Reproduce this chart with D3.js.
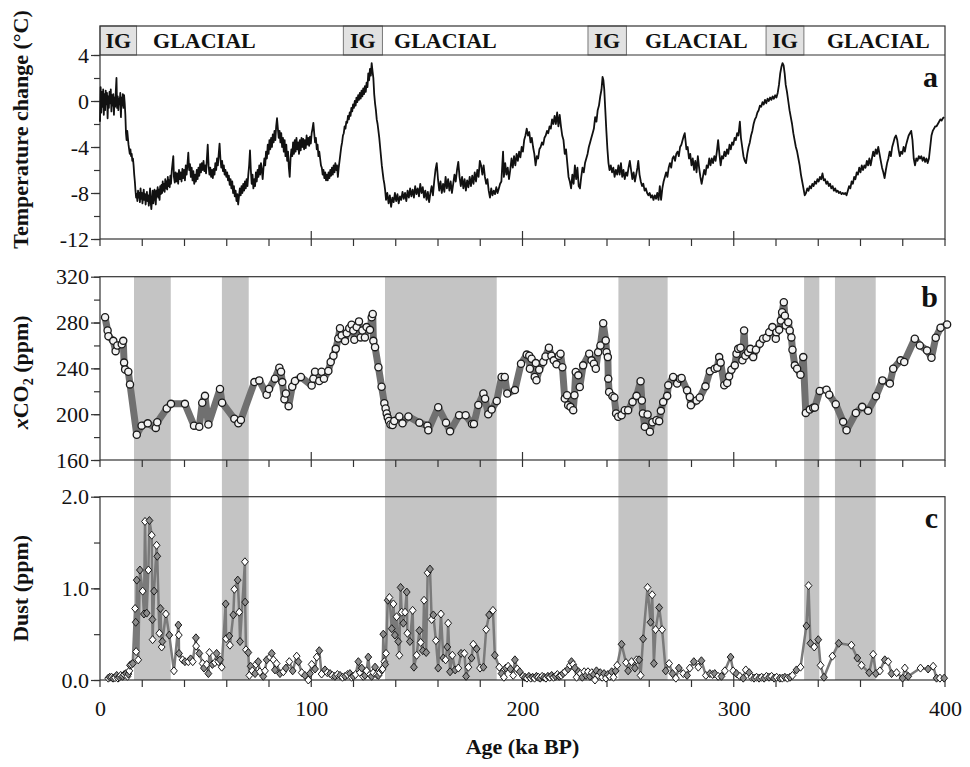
<!DOCTYPE html>
<html>
<head>
<meta charset="utf-8">
<script src="https://cdn.jsdelivr.net/npm/d3@7"></script>
<style>
body { margin: 0; background: #fff; }
svg, svg text { font-family: "Liberation Serif", "DejaVu Serif", "Times New Roman", Times, serif; fill: #111; }
</style>
</head>
<body>
<svg id="chart" width="970" height="767"></svg>
<script>

// ---- data ----

// interglacial boxes in the top strip, ka BP
var igPeriods = [[0, 17.3], [115.2, 133.7], [231, 249.2], [315.3, 333.2]];
// left edge of each GLACIAL label, ka BP
var glacialLabels = [25.1, 139.2, 258, 344.1];
// grey glacial shading over panels b and c
var shadeBands = [[16.1, 33.5], [57.7, 70.4], [134.9, 187.8], [245.4, 268.7], [333.3, 340.5], [347.9, 367.2]];

var ageTicks = [0, 100, 200, 300, 400];
var tempTicks = [4, 0, -4, -8, -12];
var co2Ticks = [320, 280, 240, 200, 160];
var dustTicks = [2, 1, 0];

// temperature change (°C), [age, value]
var tempData = [
[0,-1.8],[0.3,1.2],[0.6,-1.0],[0.9,0.8],[1.2,-0.5],[1.5,1.0],[1.8,-1.2],[2.1,0.6],[2.4,-0.8],[2.7,0.9],
[3.0,-0.3],[3.3,0.7],[3.6,-1.5],[3.9,0.4],[4.2,-0.6],[4.5,0.8],[4.8,-0.2],[5.1,1.0],[5.4,-0.9],[5.7,0.5],
[6.0,-0.4],[6.3,0.6],[6.6,-1.2],[6.9,0.3],[7.2,-0.5],[7.5,0.9],[7.8,2.0],[8.1,-0.6],[8.4,0.4],[8.7,-0.8],
[9.0,0.2],[9.3,-0.3],[9.6,0.7],[9.9,-1.4],[10.2,0.3],[10.5,-0.4],[10.8,0.6],[11.1,-0.6],[11.4,0.5],[11.7,-0.2],
[12.0,-1.2],[12.3,-2.8],[12.6,-3.4],[12.9,-2.6],[13.2,-3.2],[13.5,-3.8],[13.8,-4.2],[14.1,-4.6],[14.4,-4.2],[14.7,-4.8],
[15.0,-4.6],[15.3,-5.2],[15.6,-5.0],[15.9,-5.6],[16.2,-6.4],[16.5,-7.0],[16.8,-7.8],[17.1,-8.4],[17.4,-8.1],[17.7,-8.7],
[18.0,-7.8],[18.3,-8.4],[18.6,-8.0],[18.9,-8.8],[19.2,-7.6],[19.5,-8.5],[19.8,-8.0],[20.1,-8.9],[20.4,-8.2],[20.7,-7.7],
[21.0,-8.6],[21.3,-8.1],[21.6,-9.0],[21.9,-8.3],[22.2,-7.9],[22.5,-8.7],[22.8,-8.2],[23.1,-9.1],[23.4,-8.4],[23.7,-7.6],
[24.0,-8.8],[24.3,-9.4],[24.6,-8.6],[24.9,-7.8],[25.2,-8.9],[25.5,-8.3],[25.8,-7.7],[26.1,-8.5],[26.4,-9.0],[26.7,-7.8],
[27.0,-8.3],[27.3,-7.5],[27.6,-8.4],[27.9,-7.7],[28.2,-8.6],[28.5,-7.4],[28.8,-8.1],[29.1,-7.3],[29.4,-8.0],[29.7,-7.0],
[30.0,-7.8],[30.3,-7.2],[30.6,-7.9],[30.9,-6.8],[31.2,-7.6],[31.5,-7.0],[31.8,-7.7],[32.1,-6.6],[32.4,-7.4],[32.7,-6.9],
[33.0,-7.5],[33.3,-6.5],[33.6,-7.2],[34.0,-6.0],[34.7,-4.8],[35.0,-6.6],[35.4,-7.1],[35.8,-6.2],[36.2,-7.0],[36.6,-6.3],
[37.0,-7.2],[37.4,-6.0],[37.8,-6.8],[38.2,-6.2],[38.6,-7.0],[39.0,-5.9],[39.4,-6.7],[39.8,-6.0],[40.2,-6.9],[40.6,-5.6],
[41.0,-6.4],[41.4,-5.5],[41.8,-4.5],[42.2,-6.0],[42.6,-5.5],[43.0,-6.6],[43.4,-5.8],[43.8,-6.9],[44.2,-6.1],[44.6,-7.2],
[45.0,-6.4],[45.4,-7.0],[45.8,-6.0],[46.2,-6.8],[46.6,-5.8],[47.0,-6.5],[47.4,-5.5],[47.8,-6.2],[48.2,-5.4],[48.6,-6.0],
[49.0,-5.2],[49.4,-6.1],[49.8,-5.6],[50.2,-6.3],[50.6,-5.0],[51.0,-3.8],[51.4,-5.6],[51.8,-6.4],[52.2,-5.8],[52.6,-6.6],
[53.0,-6.0],[53.4,-6.7],[53.8,-5.9],[54.2,-6.4],[54.6,-5.4],[55.0,-6.0],[55.4,-5.0],[55.8,-5.6],[56.2,-4.6],[56.6,-3.7],
[57.0,-5.0],[57.4,-5.8],[57.8,-5.2],[58.2,-6.1],[58.6,-5.6],[59.0,-6.4],[59.4,-6.0],[59.8,-6.6],[60.2,-6.2],[60.6,-6.9],
[61.0,-6.5],[61.4,-7.3],[61.8,-6.8],[62.2,-7.6],[62.6,-7.0],[63.0,-8.0],[63.4,-7.4],[63.8,-8.3],[64.2,-7.8],[64.6,-8.7],
[65.0,-8.1],[65.4,-9.0],[65.8,-8.3],[66.2,-7.6],[66.6,-8.2],[67.0,-7.4],[67.4,-8.0],[67.8,-7.2],[68.2,-7.8],[68.6,-7.0],
[69.0,-7.6],[69.4,-6.8],[69.8,-7.4],[70.2,-6.4],[70.6,-5.6],[71.0,-4.3],[71.4,-6.0],[71.8,-7.2],[72.2,-6.4],[72.6,-7.6],
[73.0,-6.8],[73.4,-7.4],[73.8,-6.2],[74.2,-7.0],[74.6,-6.0],[75.0,-6.6],[75.4,-5.6],[75.8,-6.4],[76.2,-5.4],[76.6,-6.0],
[77.0,-6.8],[77.4,-5.8],[77.8,-5.0],[78.2,-5.6],[78.6,-4.4],[79.0,-5.0],[79.4,-3.8],[79.8,-4.6],[80.2,-3.4],[80.6,-4.2],
[81.0,-3.2],[81.4,-4.0],[81.8,-2.9],[82.2,-3.6],[82.6,-2.6],[83.0,-3.4],[83.4,-2.2],[83.8,-1.5],[84.2,-2.4],[84.6,-3.2],
[85.0,-2.6],[85.4,-3.6],[85.8,-2.8],[86.2,-4.0],[86.6,-3.2],[87.0,-4.4],[87.4,-3.4],[87.8,-4.8],[88.2,-3.8],[88.6,-5.2],
[89.0,-4.4],[89.4,-5.8],[89.8,-6.6],[90.2,-5.0],[90.6,-4.2],[91.0,-4.8],[91.4,-3.6],[91.8,-4.6],[92.2,-3.4],[92.6,-4.4],
[93.0,-3.2],[93.4,-4.2],[93.8,-3.6],[94.2,-4.6],[94.6,-3.4],[95.0,-4.3],[95.4,-3.2],[95.8,-4.0],[96.2,-3.3],[96.6,-4.2],
[97.0,-3.4],[97.4,-4.1],[97.8,-3.0],[98.2,-3.8],[98.6,-3.2],[99.0,-3.9],[99.4,-3.1],[99.8,-3.7],[100.2,-2.8],[100.6,-2.4],
[101.0,-1.9],[101.4,-2.8],[101.8,-3.6],[102.2,-3.2],[102.6,-4.2],[103.0,-3.8],[103.4,-4.8],[103.8,-4.4],[104.2,-5.0],[104.6,-5.6],
[105.0,-5.8],[105.4,-6.4],[105.8,-6.0],[106.2,-6.7],[106.6,-6.2],[107.0,-6.9],[107.4,-6.4],[107.8,-6.9],[108.2,-6.2],[108.6,-6.7],
[109.0,-6.0],[109.4,-6.5],[109.8,-5.8],[110.2,-6.4],[110.6,-5.6],[111.0,-6.2],[111.4,-5.4],[111.8,-6.0],[112.2,-5.6],[112.6,-6.6],
[113.0,-5.8],[113.4,-5.2],[113.8,-4.6],[114.2,-4.0],[114.6,-3.6],[115.0,-3.0],[115.4,-2.8],[115.8,-2.2],[116.2,-2.4],[116.6,-1.8],
[117.0,-1.9],[117.4,-1.3],[117.8,-1.6],[118.2,-1.0],[118.6,-1.3],[119.0,-0.6],[119.4,-0.9],[119.8,-0.3],[120.2,-0.6],[120.6,0.0],
[121.0,-0.4],[121.4,0.3],[121.8,-0.1],[122.2,0.5],[122.6,0.1],[123.0,0.7],[123.4,0.2],[123.8,0.9],[124.2,0.4],[124.6,1.1],
[125.0,0.6],[125.4,1.3],[125.8,0.8],[126.2,1.6],[126.6,1.2],[127.0,2.4],[127.4,1.8],[127.8,2.8],[128.2,2.2],[128.6,3.3],
[129.0,2.6],[129.4,2.0],[129.8,0.6],[130.2,-0.2],[130.6,-0.8],[131.0,-1.6],[131.4,-2.0],[131.8,-2.6],[132.2,-3.2],[132.6,-4.0],
[133.0,-4.8],[133.4,-5.6],[133.8,-6.2],[134.2,-6.8],[134.6,-7.2],[135.0,-7.8],[135.4,-8.6],[136.0,-8.0],[136.6,-8.9],[137.2,-8.2],
[137.8,-9.2],[138.4,-8.4],[139.0,-8.8],[139.6,-8.0],[140.2,-8.7],[140.8,-8.1],[141.4,-8.9],[142.0,-8.3],[142.6,-8.6],[143.2,-7.9],
[143.8,-8.5],[144.4,-8.0],[145.0,-8.7],[145.6,-7.8],[146.2,-8.4],[146.8,-7.6],[147.4,-8.3],[148.0,-7.7],[148.6,-8.4],[149.2,-7.4],
[149.8,-8.1],[150.4,-7.6],[151.0,-8.3],[151.6,-7.2],[152.2,-8.0],[152.8,-7.5],[153.4,-8.4],[154.0,-7.8],[154.6,-8.6],[155.2,-7.9],
[155.8,-8.8],[156.4,-8.0],[157.0,-7.4],[157.6,-8.2],[158.2,-7.0],[158.8,-6.0],[159.4,-5.4],[160.0,-6.8],[160.6,-7.8],[161.2,-7.0],
[161.8,-8.0],[162.4,-7.2],[163.0,-7.9],[163.6,-6.6],[164.2,-7.6],[164.8,-6.8],[165.4,-7.8],[166.0,-7.0],[166.6,-8.0],[167.2,-7.2],
[167.8,-6.4],[168.4,-7.0],[169.0,-6.0],[169.6,-5.3],[170.2,-6.6],[170.8,-7.4],[171.4,-6.6],[172.0,-7.6],[172.6,-6.8],[173.2,-7.8],
[173.8,-6.9],[174.4,-7.5],[175.0,-6.6],[175.6,-7.4],[176.2,-6.5],[176.8,-7.2],[177.4,-6.2],[178.0,-7.0],[178.6,-6.0],[179.2,-6.6],
[179.8,-5.2],[180.4,-5.6],[181.0,-6.4],[181.6,-5.6],[182.2,-6.6],[182.8,-7.2],[183.4,-6.8],[184.0,-7.8],[184.6,-8.4],[185.2,-7.6],
[185.8,-8.2],[186.4,-7.8],[187.0,-8.1],[187.6,-7.5],[188.2,-8.0],[188.8,-7.6],[189.4,-7.2],[190.0,-7.0],[190.8,-4.4],[191.2,-6.6],
[191.8,-5.4],[192.4,-6.4],[193.0,-5.8],[193.6,-6.8],[194.2,-6.0],[194.8,-5.0],[195.4,-5.8],[196.0,-4.8],[196.6,-5.6],[197.2,-4.6],
[197.8,-5.2],[198.4,-4.4],[199.0,-4.9],[199.6,-4.0],[200.2,-4.4],[200.8,-3.4],[201.4,-3.0],[202.0,-2.4],[202.6,-3.0],[203.2,-2.7],
[203.8,-3.6],[204.4,-3.2],[205.0,-4.0],[205.6,-4.6],[206.2,-5.6],[206.8,-4.8],[207.4,-5.0],[208.0,-4.2],[208.6,-4.0],[209.2,-3.6],
[209.8,-3.8],[210.4,-3.2],[211.0,-3.0],[211.6,-2.6],[212.2,-2.8],[212.8,-2.2],[213.4,-2.4],[214.0,-1.6],[214.6,-2.0],[215.2,-1.3],
[215.8,-2.0],[216.4,-1.0],[217.0,-2.2],[217.6,-1.2],[218.2,-2.2],[218.8,-3.0],[219.4,-3.4],[220.0,-4.6],[220.6,-4.2],[221.2,-5.4],
[221.8,-6.6],[222.4,-7.0],[223.0,-7.6],[223.6,-6.4],[224.2,-7.2],[224.8,-5.6],[225.4,-6.8],[226.0,-5.8],[226.6,-7.4],[227.2,-7.6],
[227.8,-6.6],[228.4,-5.8],[229.0,-6.2],[229.6,-5.4],[230.2,-5.0],[230.8,-4.6],[231.4,-4.0],[232.0,-3.6],[232.6,-3.2],[233.2,-2.8],
[233.8,-2.4],[234.4,-1.4],[235.0,-1.8],[235.6,-0.8],[236.2,-0.4],[236.8,0.4],[237.4,1.0],[237.9,2.1],[238.3,1.8],[238.7,1.0],
[239.2,-0.8],[239.7,-2.6],[240.2,-4.2],[240.7,-5.4],[241.2,-6.0],[241.8,-5.6],[242.4,-6.2],[243.0,-5.8],[243.6,-6.6],[244.2,-6.0],
[244.8,-6.4],[245.4,-5.6],[246.0,-6.4],[246.6,-5.4],[247.2,-6.6],[247.8,-6.0],[248.4,-6.8],[249.0,-6.2],[249.6,-6.5],[250.2,-5.8],
[250.8,-5.2],[251.4,-6.0],[252.0,-6.8],[252.6,-6.2],[253.2,-7.0],[253.8,-6.4],[254.4,-5.8],[254.8,-5.2],[255.4,-6.4],[256.0,-7.0],
[256.6,-7.4],[257.2,-7.2],[257.8,-7.8],[258.4,-7.6],[259.0,-8.0],[259.6,-8.2],[260.2,-8.0],[260.8,-8.4],[261.4,-8.2],[262.0,-8.6],
[262.6,-8.2],[263.2,-8.5],[263.8,-8.0],[264.4,-8.6],[265.0,-7.4],[265.6,-8.6],[266.2,-7.6],[266.8,-7.0],[267.4,-6.6],[268.0,-6.2],
[268.6,-6.6],[269.2,-5.8],[269.8,-5.4],[270.4,-5.8],[271.0,-5.0],[271.6,-4.8],[272.2,-5.2],[272.8,-4.6],[273.4,-4.4],[274.0,-4.8],
[274.6,-4.0],[275.2,-3.8],[275.8,-3.4],[276.4,-3.0],[276.8,-2.8],[277.6,-4.2],[278.2,-4.0],[278.8,-5.0],[279.4,-4.6],[280.0,-5.6],
[280.6,-5.0],[281.2,-6.0],[281.8,-5.2],[282.4,-6.2],[283.0,-4.8],[283.6,-5.8],[284.2,-6.6],[284.8,-7.2],[285.4,-6.6],[286.0,-6.0],
[286.6,-6.4],[287.2,-5.6],[287.8,-5.8],[288.4,-5.0],[289.0,-5.6],[289.6,-5.0],[290.2,-5.4],[290.8,-4.8],[291.4,-5.2],[292.0,-4.4],
[292.6,-3.4],[293.2,-4.6],[293.8,-5.6],[294.4,-4.8],[295.0,-5.0],[295.6,-4.4],[296.2,-4.8],[296.8,-4.2],[297.4,-4.6],[298.0,-3.8],
[298.6,-4.2],[299.2,-3.6],[299.8,-3.8],[300.4,-3.2],[301.0,-3.4],[301.6,-2.8],[302.2,-3.0],[302.9,-1.8],[303.4,-3.2],[304.0,-4.0],
[304.6,-4.8],[305.2,-5.2],[305.8,-5.4],[306.4,-4.6],[307.0,-4.0],[307.6,-3.6],[308.2,-3.0],[308.8,-2.6],[309.4,-2.0],[310.0,-1.6],
[310.6,-1.4],[311.2,-1.0],[311.8,-0.8],[312.4,-0.4],[313.0,-0.5],[313.6,-0.1],[314.2,-0.3],[314.8,0.1],[315.4,-0.2],[316.0,0.2],
[316.6,0.0],[317.2,0.3],[317.8,0.1],[318.4,0.4],[319.0,0.2],[319.6,0.5],[320.2,0.3],[320.8,0.7],[321.4,1.4],[322.0,2.4],
[322.6,3.0],[323.1,3.3],[323.6,3.1],[324.1,2.4],[324.6,1.4],[325.2,0.8],[325.8,0.0],[326.4,-0.8],[327.0,-1.4],[327.6,-2.0],
[328.2,-2.8],[328.8,-3.4],[329.4,-4.0],[330.0,-4.4],[330.6,-5.0],[331.2,-5.6],[331.8,-6.4],[332.4,-7.0],[333.0,-7.6],[333.6,-8.2],
[334.2,-8.0],[334.8,-7.6],[335.4,-7.8],[336.0,-7.4],[336.6,-7.6],[337.2,-7.2],[337.8,-7.4],[338.4,-7.0],[339.0,-7.2],[339.6,-6.8],
[340.2,-7.0],[340.8,-6.6],[341.4,-6.8],[342.0,-6.3],[342.6,-6.9],[343.2,-6.8],[343.8,-7.2],[344.4,-7.0],[345.0,-7.4],[345.6,-7.2],
[346.2,-7.6],[346.8,-7.4],[347.4,-7.8],[348.0,-7.6],[348.6,-7.9],[349.2,-7.8],[349.8,-8.0],[350.4,-7.9],[351.0,-8.1],[351.6,-8.0],
[352.2,-8.1],[352.8,-8.0],[353.4,-8.2],[354.0,-7.8],[354.6,-7.4],[355.2,-7.6],[355.8,-7.0],[356.4,-7.2],[357.0,-6.6],[357.6,-6.8],
[358.2,-6.2],[358.8,-6.4],[359.4,-5.8],[360.0,-6.2],[360.6,-5.6],[361.2,-6.0],[361.8,-5.6],[362.4,-5.8],[363.0,-5.2],[363.6,-5.6],
[364.2,-5.0],[364.8,-5.6],[365.4,-5.0],[366.0,-4.4],[366.6,-4.8],[367.2,-4.2],[367.8,-4.6],[368.4,-4.0],[369.0,-4.6],[369.6,-5.2],
[370.2,-5.8],[370.8,-6.2],[371.4,-6.7],[372.0,-6.0],[372.6,-5.4],[373.2,-5.0],[373.8,-4.4],[374.4,-4.8],[375.0,-4.0],[375.6,-3.6],
[376.2,-3.2],[376.8,-3.0],[377.4,-3.4],[378.0,-4.2],[378.6,-4.8],[379.2,-4.4],[379.8,-4.6],[380.4,-4.0],[381.0,-4.4],[381.6,-3.8],
[382.2,-3.4],[382.8,-3.0],[383.4,-2.8],[384.0,-2.6],[384.6,-3.4],[385.2,-5.0],[385.8,-5.6],[386.4,-5.0],[387.0,-5.2],[387.6,-4.8],
[388.2,-5.0],[388.8,-4.8],[389.4,-5.2],[390.0,-4.9],[390.6,-5.3],[391.2,-5.0],[391.8,-5.4],[392.4,-5.0],[393.0,-4.0],[393.6,-3.0],
[394.2,-2.6],[394.8,-2.4],[395.4,-2.2],[396.0,-2.2],[396.6,-2.0],[397.2,-1.8],[397.8,-1.6],[398.4,-1.7],[399.0,-1.5],[399.6,-1.4]
];

// CO2 (ppm), [age, value]
var co2Data = [
[2.4,284.6],[3.6,273],[4.0,268],[6.3,264],[7.4,255],[8.2,260],[10.3,261],[11,264],[11.4,245],[11.9,239],
[13.4,237],[14.2,226],[17.4,182],[19.7,190],[22.6,192],[26.4,188],[27.1,193],[31.6,205],[33.6,209],[40.2,209],
[44.5,190],[47,189],[48.4,210],[49.7,216],[51.3,191],[56.8,222],[57.8,210],[63.6,196],[65.5,192],[66.7,195],
[73.1,228],[75.4,229.5],[78.9,217],[80,222],[82.8,231],[84.9,240.6],[85.7,237],[86.3,228],[87.3,213],[88,218],
[89.3,207],[91,224],[92.3,229],[95.1,232.5],[100.2,225],[101,231],[101.8,237],[103.8,229],[104.9,237],[106,231],
[108.1,237.7],[109.2,245.5],[110.5,251],[111.6,257],[112.8,266],[113.6,275],[114.4,268.7],[116,263.8],[116.8,270.7],[118,275],
[119.1,278],[119.9,273],[120.4,265],[121.5,276],[122.6,281],[123.4,267],[124.2,273],[125.4,267],[126.2,276],[127.8,273.6],
[128.6,284.6],[129.1,287.5],[129.4,264],[130.2,258.5],[131.8,241],[133.3,224],[134.6,209.5],[135.2,205],[135.7,200.6],[136.2,197],
[136.8,194],[137.5,191],[138.5,190.6],[139.3,194],[141.7,198],[143.2,192],[146,198],[151.2,192.6],[155,190],[155.4,186],
[160.1,206],[163.8,192.6],[165.7,185],[170,199],[173.1,199],[176.1,191.5],[177,191.5],[179.1,208],[181.5,218],[182.3,213.5],
[183.8,200],[185.4,204],[187.8,211.5],[190.1,232.5],[191.6,232.5],[192.8,218],[196.4,221],[199.3,244],[202,252],[203.2,251],
[203.5,239.7],[204.3,248.4],[205.8,232.4],[206.3,244.6],[206.6,229.6],[207.9,238.8],[209.8,245.5],[210.9,250.4],[212.5,258],[213.7,251],
[214.8,247],[216.1,243.5],[217.2,251],[218,252.7],[218.9,241],[220,213.6],[221.1,216.5],[221.6,207.8],[222.7,206.4],[224,203.5],
[224.6,216.5],[225.2,236.8],[226.4,233.9],[227.1,223.7],[228.7,242.6],[231.6,252.7],[232.7,247],[233.8,244],[234.7,239.7],[235.8,254],
[236.9,260],[238.2,279.4],[239.4,264.3],[239.8,254],[240.4,249.8],[240.6,231],[241,219.4],[242.6,215.6],[243.5,214.5],[244.3,200.6],
[245.3,197.7],[246.9,199],[248.4,203.5],[250,203.5],[252.1,210.7],[254,216],[255.9,228.7],[256.5,212],[257,200.6],[257.9,189],
[259.2,199.7],[260.3,184.6],[261.5,193],[263.4,194.7],[264.7,193.9],[265.5,202.9],[266.6,210.7],[268.5,216],[269,225.2],[271.3,232.4],
[273.2,226.7],[274.5,231],[275.3,231.6],[277.9,220.8],[279.2,215],[279.7,207.8],[282.4,212],[283.9,214.5],[286.6,224.3],[288.7,237.4],
[291,239.7],[292.2,240.6],[293.1,249.8],[293.8,245],[295.5,225.2],[296.9,227.2],[297.8,233],[298.9,238.8],[300.5,242.6],[301.3,252.7],
[302.1,257],[303.2,258],[304.1,247],[304.9,273],[305.5,251],[306.8,254],[307.9,257],[309.2,249.8],[310.5,256.3],[312.3,261.4],
[313.9,265.8],[315.5,266.7],[316.8,271.6],[318.3,276],[319.9,265.8],[320.2,271.6],[321.5,273.6],[322.3,281.7],[322.9,289],[323.7,297.7],
[324.2,286],[324.6,277.4],[325.8,280.3],[326.5,273],[327.3,267],[327.8,256.3],[328.9,242.6],[330,239.7],[331.6,234.5],[332.9,249.8],
[334.1,201.1],[336,204],[337.6,205.5],[338.4,205.8],[340.7,220.3],[343.9,221.4],[345.2,217],[348.3,208.7],[351.8,193.3],[353.4,186],
[357.8,201],[360.8,206.4],[363.6,202.9],[367.3,215.6],[370.4,229.5],[373.9,226.7],[375.5,239.7],[379,247],[380.7,245.5],[385.7,265.8],
[388.1,260],[391.5,255.6],[393.6,249.3],[395.6,266.7],[397.9,275.4],[401,278.3]
];

// dust (ppm), [age, value]
var dustData = [
[3.9,0.02],[4.6,0.03],[5.5,0.03],[6.2,0.02],[7.1,0.025],[7.9,0.05],[8.5,0.02],[9.1,0.03],[9.8,0.05],[10.7,0.04],
[11.5,0.06],[12.3,0.07],[13.0,0.04],[13.4,0.065],[13.9,0.1],[14.2,0.16],[14.8,0.17],[15.5,0.18],[16.6,0.78],[16.9,0.63],
[17.1,0.31],[17.4,1.09],[18.1,0.22],[18.9,1.2],[20.2,0.97],[20.8,0.72],[21.3,1.73],[22.1,0.73],[22.9,1.2],[23.4,1.74],
[24.5,1.58],[24.8,0.66],[24.9,0.44],[25.6,0.97],[26.8,1.47],[27.1,1.35],[28.1,0.51],[28.6,0.78],[29.2,0.36],[29.5,0.42],
[31.2,0.72],[32.8,0.49],[35,0.1],[37.1,0.6],[37.3,0.49],[37.4,0.29],[39.1,0.22],[40.2,0.2],[41.8,0.2],[42.9,0.23],
[43.9,0.2],[45.4,0.46],[45.5,0.37],[47,0.29],[48.6,0.18],[49.2,0.13],[50.5,0.17],[51.3,0.07],[51.8,0.3],[53.2,0.17],
[54.4,0.19],[55.2,0.29],[56,0.2],[56.8,0.22],[57.6,0.14],[59.5,0.83],[59.7,0.45],[61.2,0.48],[61.5,0.38],[63.1,0.71],
[63.6,0.99],[65.2,1.09],[65.9,0.74],[66.3,0.42],[68.6,1.29],[68.7,0.85],[69.1,0.33],[70.2,0.3],[70.7,0.05],[71.3,0.15],
[72.1,0.1],[73.4,0.07],[73.8,0.17],[74.9,0.2],[75.7,0.09],[77.3,0.04],[78.1,0.1],[78.9,0.22],[80.5,0.25],[81.3,0.29],
[82.1,0.22],[82.8,0.11],[83.6,0.18],[85.2,0.07],[86.8,0.09],[88,0.13],[89.6,0.2],[91.2,0.1],[93.1,0.26],[93.9,0.2],
[95.5,0.08],[97,0.05],[98.6,0.0],[99.4,0.07],[100.2,0.17],[101.8,0.12],[102.6,0.25],[103.8,0.32],[104.9,0.065],[106.5,0.11],
[107.6,0.08],[108.9,0.07],[110,0.05],[111.2,0.04],[112.4,0.06],[113.6,0.05],[114.8,0.03],[116,0.04],[117.2,0.06],[118.3,0.07],
[119.1,0.03],[119.9,0.04],[121,0.06],[122.3,0.2],[123.1,0.08],[123.9,0.13],[124.6,0.04],[125.4,0.05],[126.2,0.1],[127,0.25],
[127.8,0.06],[128.6,0.04],[129.4,0.08],[130.2,0.14],[131,0.06],[131.8,0.05],[132.5,0.08],[133.3,0.11],[133.8,0.12],[134.1,0.5],
[134.6,0.2],[135.0,0.17],[135.4,0.29],[136.2,0.87],[137,0.9],[138.1,0.56],[138.9,0.83],[139.6,0.49],[140.4,0.69],[141.2,0.42],
[141.7,0.27],[142.3,1.01],[142.8,0.74],[143.6,0.62],[144.4,0.74],[145.2,0.96],[145.5,0.51],[146.7,0.42],[148,0.76],[148.6,0.14],
[149.9,0.27],[151.2,0.54],[151.8,0.41],[152.8,0.32],[153.4,0.87],[154.4,0.3],[155.1,1.17],[156.2,1.21],[157,0.66],[157.8,0.71],
[159,0.43],[160.1,0.13],[161.4,0.72],[162.5,0.24],[163.6,0.22],[164.4,0.36],[164.8,0.62],[165.7,0.09],[166.8,0.27],[168.1,0.11],
[169.6,0.13],[170.9,0.29],[172.5,0.29],[173.3,0.04],[174.4,0.14],[175.9,0.24],[176.7,0.39],[178.3,0.34],[179.9,0.13],[181.5,0.14],
[182.8,0.55],[184.2,0.71],[186,0.76],[186.9,0.27],[189,0.14],[190.1,0.07],[191.2,0.03],[192.1,0.13],[193.2,0.15],[194.3,0.12],
[195.6,0.05],[196.4,0.22],[197.5,0.12],[198.7,0.09],[200.3,0.04],[201.2,0.03],[202.1,0.02],[203,0.04],[203.9,0.02],[204.8,0.03],
[205.7,0.02],[206.6,0.04],[207.5,0.03],[208.4,0.02],[209.3,0.04],[210.2,0.03],[211.1,0.02],[212,0.04],[212.9,0.03],[213.8,0.05],
[214.7,0.03],[215.6,0.04],[216.5,0.06],[217.4,0.04],[218.3,0.05],[219.2,0.07],[220.2,0.09],[221.6,0.12],[222.5,0.16],[223.2,0.2],
[224,0.17],[224.8,0.13],[225.6,0.03],[226.5,0.09],[227.4,0.07],[228.3,0.03],[229.2,0.09],[230.1,0.05],[231,0.09],[231.9,0.04],
[232.8,0.08],[233.7,0.06],[234.3,0.0],[235,0.1],[235.9,0.05],[236.8,0.08],[237.7,0.03],[238.6,0.07],[239.5,0.02],[240.4,0.06],
[241.3,0.04],[242.2,0.09],[243.1,0.03],[244.1,0.1],[244.8,0.16],[246.9,0.39],[249,0.19],[250,0.1],[251.6,0.2],[253.2,0.13],
[254,0.22],[255.2,0.22],[255.9,0.05],[257.1,0.45],[259.2,1.01],[260.6,0.63],[261.4,0.93],[262.2,0.18],[263,0.55],[264.7,0.79],
[266.1,0.55],[267.8,0.1],[269.4,0.18],[271,0.07],[272.6,0.02],[274,0.13],[276.1,0.07],[277.9,0.05],[279.2,0.13],[281.1,0.2],
[283.2,0.14],[284.7,0.21],[286.8,0.05],[288.7,0.07],[290,0.06],[291,0.07],[292.6,0.04],[294.2,0.04],[295.8,0.1],[298.5,0.25],
[299.7,0.1],[301.3,0.07],[302.9,0.04],[304.5,0.02],[305.7,0.11],[307.3,0.08],[308.4,0.03],[309.6,0.02],[310.8,0.03],[312,0.02],
[313.2,0.03],[314.4,0.02],[315.5,0.04],[316.7,0.03],[317.9,0.04],[319.1,0.02],[320.3,0.03],[321.8,0.02],[323,0.02],[324.2,0.03],
[325.4,0.02],[326.6,0.03],[327.8,0.05],[329.7,0.11],[331.6,0.14],[334.4,0.59],[335.4,1.03],[336.3,0.4],[338.1,0.36],[340,0.44],
[341.1,0.16],[342.7,0.03],[346.7,0.26],[349.7,0.4],[355.7,0.38],[358.5,0.24],[360.5,0.16],[364.1,0.08],[366,0.28],[367.3,0.07],
[369.2,0.1],[371.5,0.22],[373.1,0.2],[374.7,0.07],[377.1,0.08],[379.9,0.02],[381,0.13],[382.6,0.04],[388.4,0.13],[392,0.12],
[394.4,0.15],[396,0.02],[397.6,0.02],[399.6,0.02]
];

// ---- drawing ----

var FONT = "'Liberation Serif', 'DejaVu Serif', 'Times New Roman', Times, serif";
var svg = d3.select("#chart").attr("font-family", FONT);
var axisColor = "#333";

var x = d3.scaleLinear().domain([0, 400]).range([100, 945]);

var panels = {
    a: { top: 55, bottom: 239, stripTop: 26 },
    b: { top: 276.7, bottom: 460 },
    c: { top: 496.7, bottom: 680 }
};

var yTemp = d3.scaleLinear().domain([-12, 4]).range([panels.a.bottom, panels.a.top]);
var yCo2 = d3.scaleLinear().domain([160, 320]).range([panels.b.bottom, panels.b.top]);
var yDust = d3.scaleLinear().domain([0, 2]).range([panels.c.bottom, panels.c.top]);

// glacial shading behind panels b and c
svg.append("g")
    .selectAll("rect")
    .data(shadeBands)
    .join("rect")
    .attr("x", d => x(d[0]))
    .attr("width", d => x(d[1]) - x(d[0]))
    .attr("y", panels.b.top)
    .attr("height", panels.c.bottom - panels.b.top)
    .attr("fill", "#c4c4c4");

// IG / GLACIAL strip
var strip = svg.append("g");
strip.selectAll("rect.ig")
    .data(igPeriods)
    .join("rect")
    .attr("class", "ig")
    .attr("x", d => x(d[0]))
    .attr("width", d => x(d[1]) - x(d[0]))
    .attr("y", panels.a.stripTop)
    .attr("height", panels.a.top - panels.a.stripTop)
    .attr("fill", "#e2e2e2")
    .attr("stroke", "#777")
    .attr("stroke-width", 1);
strip.selectAll("text.ig")
    .data(igPeriods)
    .join("text")
    .attr("class", "ig")
    .attr("x", d => (x(d[0]) + x(d[1])) / 2)
    .attr("y", 48)
    .attr("text-anchor", "middle")
    .attr("font-family", FONT)
    .attr("font-size", 22)
    .attr("font-weight", "bold")
    .text("IG");
strip.selectAll("text.gl")
    .data(glacialLabels)
    .join("text")
    .attr("class", "gl")
    .attr("x", d => x(d))
    .attr("y", 48)
    .attr("font-family", FONT)
    .attr("font-size", 22)
    .attr("font-weight", "bold")
    .text("GLACIAL");

// frames
function frame(top, bottom)
{
    svg.append("rect")
        .attr("x", x(0)).attr("y", top)
        .attr("width", x(400) - x(0)).attr("height", bottom - top)
        .attr("fill", "none")
        .attr("stroke", axisColor)
        .attr("stroke-width", 1.2);
}
frame(panels.a.stripTop, panels.a.bottom);
svg.append("line")
    .attr("x1", x(0)).attr("x2", x(400))
    .attr("y1", panels.a.top).attr("y2", panels.a.top)
    .attr("stroke", axisColor).attr("stroke-width", 1.2);
frame(panels.b.top, panels.b.bottom);
frame(panels.c.top, panels.c.bottom);

// bottom ticks every 20 ka, the 100s crossing the axis
var ageMinor = d3.range(0, 401, 20);
function bottomTicks(yBase)
{
    var g = svg.append("g");
    g.selectAll("line")
        .data(ageMinor)
        .join("line")
        .attr("x1", d => x(d)).attr("x2", d => x(d))
        .attr("y1", d => (d % 100 === 0 && d > 0 && d < 400) ? yBase - 8 : yBase)
        .attr("y2", yBase + 7)
        .attr("stroke", axisColor)
        .attr("stroke-width", 1.2);
}
bottomTicks(panels.a.bottom);
bottomTicks(panels.b.bottom);
bottomTicks(panels.c.bottom);

// left axes
function styleText(g)
{
    g.selectAll("text")
        .attr("font-size", 22)
        .attr("font-family", FONT)
        .attr("fill", "#111");
}
function leftAxis(y, major, minor, fmt)
{
    svg.append("g")
        .attr("transform", "translate(" + x(0) + ",0)")
        .call(d3.axisLeft(y).tickValues(minor).tickSize(6).tickFormat(""))
        .call(g => g.select(".domain").remove())
        .call(g => g.selectAll("line").attr("stroke", axisColor).attr("stroke-width", 1.2));
    svg.append("g")
        .attr("transform", "translate(" + x(0) + ",0)")
        .attr("font-family", FONT)
        .call(d3.axisLeft(y).tickValues(major).tickSize(9).tickPadding(2).tickFormat(fmt))
        .attr("font-family", FONT)
        .call(g => g.select(".domain").remove())
        .call(g => g.selectAll("line").attr("stroke", axisColor).attr("stroke-width", 1.2))
        .call(styleText);
}
leftAxis(yTemp, tempTicks, d3.range(-12, 5, 2), d => String(d));
leftAxis(yCo2, co2Ticks, d3.range(160, 321, 20), d => String(d));
leftAxis(yDust, dustTicks, [0, 0.5, 1, 1.5, 2], d3.format(".1f"));

// age labels
svg.append("g")
    .attr("transform", "translate(0," + panels.c.bottom + ")")
    .call(d3.axisBottom(x).tickValues(ageTicks).tickSize(0).tickPadding(20).tickFormat(d => String(d)))
    .attr("font-family", FONT)
    .call(g => g.select(".domain").remove())
    .call(styleText);

// temperature curve
svg.append("path")
    .datum(tempData)
    .attr("fill", "none")
    .attr("stroke", "#111")
    .attr("stroke-width", 1.8)
    .attr("stroke-linejoin", "round")
    .attr("d", d3.line().x(d => x(d[0])).y(d => yTemp(d[1])));

// CO2 curve
svg.append("path")
    .datum(co2Data)
    .attr("fill", "none")
    .attr("stroke", "#707070")
    .attr("stroke-width", 7)
    .attr("stroke-linejoin", "round")
    .attr("stroke-linecap", "round")
    .attr("d", d3.line().x(d => x(d[0])).y(d => yCo2(d[1])));
svg.append("g")
    .selectAll("circle")
    .data(co2Data)
    .join("circle")
    .attr("cx", d => x(d[0]))
    .attr("cy", d => yCo2(d[1]))
    .attr("r", 3.6)
    .attr("fill", "#f2f2f2")
    .attr("stroke", "#1a1a1a")
    .attr("stroke-width", 1.3);

// dust curve
svg.append("path")
    .datum(dustData)
    .attr("fill", "none")
    .attr("stroke", "#7a7a7a")
    .attr("stroke-width", 2.5)
    .attr("stroke-linejoin", "round")
    .attr("d", d3.line().x(d => x(d[0])).y(d => yDust(d[1])));
svg.append("g")
    .selectAll("path")
    .data(dustData)
    .join("path")
    .attr("transform", d => "translate(" + x(d[0]) + "," + yDust(d[1]) + ")")
    .attr("d", "M0,-4L3.4,0L0,4L-3.4,0Z")
    .attr("fill", (d, i) => i % 2 ? "#8c8c8c" : "#ffffff")
    .attr("stroke", "#1a1a1a")
    .attr("stroke-width", 1);

// panel letters
var letters = [["a", panels.a.top + 32], ["b", panels.b.top + 30], ["c", panels.c.top + 31]];
svg.selectAll("text.letter")
    .data(letters)
    .join("text")
    .attr("class", "letter")
    .attr("x", 938)
    .attr("y", d => d[1])
    .attr("text-anchor", "end")
    .attr("font-family", FONT)
    .attr("font-size", 30)
    .attr("font-weight", "bold")
    .text(d => d[0]);

// axis titles
function yTitle(cy)
{
    return svg.append("text")
        .attr("transform", "translate(28," + cy + ") rotate(-90)")
        .attr("text-anchor", "middle")
        .attr("font-family", FONT)
        .attr("font-size", 22)
        .attr("font-weight", "bold");
}
yTitle((panels.a.stripTop + panels.a.bottom) / 2 - 3).text("Temperature change (°C)");
var co2Title = yTitle((panels.b.top + panels.b.bottom) / 2 + 4);
co2Title.append("tspan").attr("font-style", "italic").text("x");
co2Title.append("tspan").text("CO");
co2Title.append("tspan").attr("font-size", 14).attr("dy", 5).text("2");
co2Title.append("tspan").attr("dy", -5).text(" (ppm)");
yTitle((panels.c.top + panels.c.bottom) / 2).text("Dust (ppm)");

svg.append("text")
    .attr("x", (x(0) + x(400)) / 2)
    .attr("y", 754)
    .attr("text-anchor", "middle")
    .attr("font-family", FONT)
    .attr("font-size", 22)
    .attr("font-weight", "bold")
    .text("Age (ka BP)");

</script>
</body>
</html>
